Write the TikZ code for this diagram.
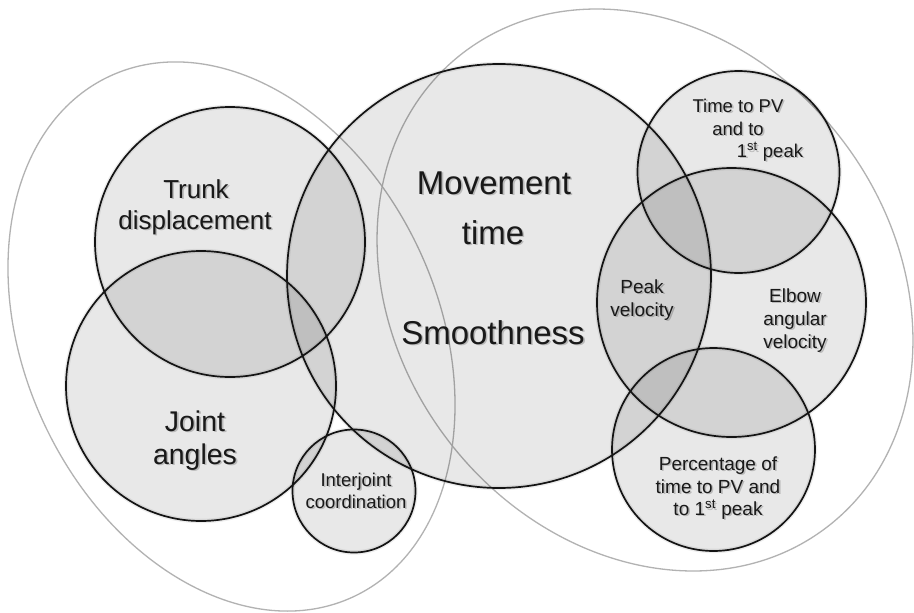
\documentclass[tikz,border=0pt]{standalone}
\usepackage{fontspec}
\setmainfont{Liberation Sans}
% one label line: name, x, baseline y, font size, text (with a soft drop shadow)
\newcommand\vennline[5]{%
  \node[lblshadow, font=\fontsize{#4}{#4}\selectfont] (#1-sh) at (#2+1.6,#3+1.6) {#5};
  \node[lbl, font=\fontsize{#4}{#4}\selectfont] (#1) at (#2,#3) {#5};
}
\begin{document}
\begin{tikzpicture}[x=1pt,y=-1pt,
  vennfill/.style={circle, inner sep=0pt, outer sep=0pt, fill=black, fill opacity=0.09},
  halo/.style={draw=black, line width=4.5pt, draw opacity=0.07},
  rim/.style={draw=black!92, line width=1.7pt},
  group/.style={draw=black!30, line width=1.3pt},
  lbl/.style={inner sep=0pt, anchor=base, text=black!90},
  lblshadow/.style={inner sep=0pt, anchor=base, text=black, text opacity=0.2},
]
\fill[white] (0,0) rectangle (914,613);
\useasboundingbox (0,0) rectangle (914,613);

% the two grouping ellipses
\draw[group, shift={(231.5,336.5)}, rotate=25.2] (0,0) ellipse[x radius=206.7pt, y radius=287.4pt];
\draw[group, shift={(645,290)}, rotate=37.6] (0,0) ellipse[x radius=247.8pt, y radius=298.9pt];

% translucent discs
\foreach \n/\cx/\cy/\d in {trunk/230/242/270, joint/201/386/270, move/499/276/424,
    tpv/738.5/172/202, elbow/731.5/302.5/269, pct/713.5/449.5/203, inter/354/491/123}
  \node[vennfill, minimum size=\d pt] (\n) at (\cx,\cy) {};

% soft shadow and outline of each disc
\foreach \n/\r in {trunk/135, joint/135, move/212, tpv/101, elbow/134.5, pct/101.5, inter/61.5}
  \draw[halo] (\n) circle[radius=\r pt];
\foreach \n/\r in {trunk/135, joint/135, move/212, tpv/101, elbow/134.5, pct/101.5, inter/61.5}
  \draw[rim] (\n) circle[radius=\r pt];

% labels
\vennline{trunk1}{196}{198}{26}{Trunk}
\vennline{trunk2}{195}{229}{26}{displacement}
\vennline{joint1}{195}{431}{28.5}{Joint}
\vennline{joint2}{195}{464}{28.5}{angles}
\vennline{move1}{494}{194}{33}{Movement}
\vennline{move2}{493}{244}{33}{time}
\vennline{move3}{493}{344}{33}{Smoothness}
\vennline{tpv1}{738}{112}{18.5}{Time to PV}
\vennline{tpv2}{738}{135}{18.5}{and to}
\vennline{tpv3}{770}{157}{18.5}{1\textsuperscript{st} peak}
\vennline{peak1}{642}{293}{19}{Peak}
\vennline{peak2}{642}{316}{19}{velocity}
\vennline{elbow1}{795}{302}{19}{Elbow}
\vennline{elbow2}{795}{325}{19}{angular}
\vennline{elbow3}{795}{348}{19}{velocity}
\vennline{pct1}{718}{470}{19}{Percentage of}
\vennline{pct2}{718}{493}{19}{time to PV and}
\vennline{pct3}{718}{515}{19}{to 1\textsuperscript{st} peak}
\vennline{inter1}{356}{486}{18.5}{Interjoint}
\vennline{inter2}{356}{508}{18.5}{coordination}
\end{tikzpicture}
\end{document}
